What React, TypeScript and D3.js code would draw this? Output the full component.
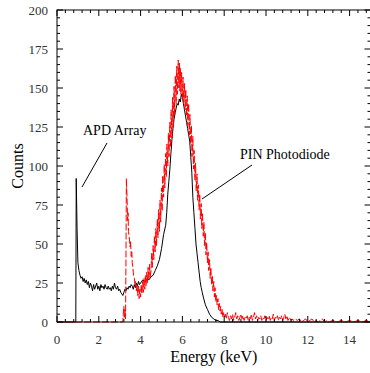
import { useEffect, useRef } from "react"
import * as d3 from "d3"

// APD Array spectrum (black)
const apdEnergy = [
  0, 0.9, 0.92, 0.96, 1.0, 1.05, 1.1, 1.15, 1.2, 1.25, 1.3, 1.35, 1.4, 1.45, 1.5, 1.55, 1.6, 1.65, 1.7, 1.75,
  1.8, 1.85, 1.9, 1.95, 2.0, 2.05, 2.1, 2.15, 2.2, 2.25, 2.3, 2.35, 2.4, 2.45, 2.5, 2.55, 2.6, 2.65, 2.7, 2.75,
  2.8, 2.85, 2.9, 2.95, 3.0, 3.05, 3.1, 3.15, 3.2, 3.25, 3.3, 3.35, 3.4, 3.45, 3.5, 3.55, 3.6, 3.65, 3.7, 3.75,
  3.8, 3.85, 3.9, 3.95, 4.0, 4.1, 4.2, 4.3, 4.4, 4.5, 4.6, 4.7, 4.8, 4.9, 5.0, 5.1, 5.2, 5.25, 5.3, 5.35, 5.4,
  5.45, 5.5, 5.55, 5.6, 5.65, 5.7, 5.75, 5.8, 5.85, 5.9, 5.95, 6.0, 6.05, 6.1, 6.15, 6.2, 6.25, 6.3, 6.35, 6.4,
  6.45, 6.5, 6.55, 6.6, 6.65, 6.7, 6.75, 6.8, 6.85, 6.9, 6.95, 7.0, 7.1, 7.2, 7.3, 7.4, 7.5, 7.6, 7.7, 7.8, 15,
]
const apdCounts = [
  0, 0, 92, 60, 38, 33, 30, 28, 29, 26, 28, 25, 27, 24, 26, 22, 25, 23, 20, 24,
  21, 23, 25, 21, 23, 20, 24, 22, 23, 21, 24, 22, 21, 23, 21, 22, 20, 23, 21, 25,
  22, 21, 23, 20, 21, 19, 18, 17, 19, 21, 20, 22, 21, 23, 22, 24, 23, 21, 24, 22,
  25, 23, 26, 24, 25, 27, 26, 28, 27, 29, 30, 33, 36, 40, 47, 56, 62, 70, 82, 90, 98,
  108, 117, 124, 130, 134, 137, 140, 139, 143, 141, 146, 144, 140, 136, 132, 128, 124, 120, 116, 106,
  96, 80, 70, 60, 50, 44, 38, 32, 26, 22, 19, 16, 11, 8, 5, 3, 2, 1, 1, 0, 0,
]

// PIN Photodiode spectrum (red)
const pinEnergy = [
  0, 3.15, 3.17, 3.2, 3.22, 3.25, 3.28, 3.3, 3.32, 3.35, 3.38, 3.4, 3.42, 3.45, 3.5, 3.52, 3.55, 3.58, 3.6, 3.63,
  3.66, 3.7, 3.73, 3.76, 3.8, 3.83, 3.86, 3.9, 3.93, 3.96, 4.0, 4.03, 4.06, 4.1, 4.13, 4.16, 4.2, 4.23, 4.26, 4.3,
  4.33, 4.36, 4.4, 4.43, 4.46, 4.5, 4.53, 4.56, 4.6, 4.63, 4.66, 4.7, 4.73, 4.76, 4.8, 4.83, 4.86, 4.9, 4.93, 4.96,
  5.0, 5.03, 5.06, 5.1, 5.13, 5.16, 5.2, 5.23, 5.26, 5.3, 5.33, 5.36, 5.4, 5.43, 5.46, 5.5, 5.53, 5.56, 5.6, 5.63,
  5.66, 5.7, 5.73, 5.76, 5.8, 5.83, 5.86, 5.88, 5.9, 5.93, 5.96, 6.0, 6.03, 6.06, 6.1, 6.13, 6.16, 6.2, 6.23, 6.26,
  6.3, 6.33, 6.36, 6.4, 6.43, 6.46, 6.5, 6.53, 6.56, 6.6, 6.63, 6.66, 6.7, 6.73, 6.76, 6.8, 6.83, 6.86, 6.9, 6.93,
  6.96, 7.0, 7.03, 7.06, 7.1, 7.13, 7.16, 7.2, 7.23, 7.26, 7.3, 7.33, 7.36, 7.4, 7.43, 7.46, 7.5, 7.53, 7.56, 7.6,
  7.63, 7.66, 7.7, 7.73, 7.76, 7.8, 7.83, 7.86, 7.9, 7.93, 7.96, 8.0, 8.05, 8.1, 8.15, 8.2, 8.25, 8.3, 8.35, 8.4,
  8.45, 8.5, 8.55, 8.6, 8.65, 8.7, 8.75, 8.8, 8.85, 8.9, 8.95, 9.0, 9.05, 9.1, 9.15, 9.2, 9.25, 9.3, 9.35, 9.4,
  9.45, 9.5, 9.55, 9.6, 9.65, 9.7, 9.75, 9.8, 9.85, 9.9, 9.95, 10.0, 10.05, 10.1, 10.15, 10.2, 10.25, 10.3, 10.35, 10.4,
  10.45, 10.5, 10.55, 10.6, 10.65, 10.7, 10.75, 10.8, 10.85, 10.9, 10.95, 11.0, 11.05, 11.1, 11.15, 11.2, 11.25, 11.3, 11.4, 11.5,
  11.6, 11.7, 11.8, 11.9, 12.0, 12.1, 12.2, 12.3, 12.4, 12.5, 12.6, 12.7, 12.8, 12.9, 13.0, 13.2, 13.4, 13.6, 13.8, 14.0,
  14.2, 14.4, 14.6, 14.8, 15,
]
const pinCounts = [
  0, 0, 5, 10, 3, 8, 2, 40, 92, 80, 65, 70, 58, 55, 48, 52, 42, 45, 38, 35,
  30, 28, 24, 26, 20, 24, 17, 23, 15, 21, 16, 24, 18, 26, 19, 28, 21, 30, 23, 32,
  25, 35, 27, 37, 29, 33, 44, 35, 49, 40, 55, 45, 60, 49, 66, 54, 72, 58, 78, 64,
  86, 71, 94, 80, 101, 86, 108, 93, 114, 100, 121, 106, 128, 112, 136, 118, 144, 125, 151, 133,
  158, 140, 164, 146, 168, 150, 166, 148, 163, 146, 160, 143, 157, 140, 153, 136, 149, 132, 145, 126,
  140, 120, 133, 114, 126, 106, 119, 98, 110, 91, 102, 84, 95, 78, 88, 72, 82, 66, 76, 60,
  70, 55, 64, 49, 57, 43, 51, 38, 45, 33, 40, 28, 35, 24, 30, 20, 26, 16, 22, 13,
  17, 11, 15, 8, 12, 7, 10, 5, 8, 3, 6, 3, 5, 2, 6, 3, 1, 4, 2, 5,
  1, 3, 6, 2, 4, 1, 3, 5, 2, 4, 1, 3, 2, 4, 1, 3, 2, 5, 1, 3,
  6, 2, 4, 1, 3, 2, 4, 1, 3, 2, 4, 1, 3, 2, 4, 1, 3, 2, 5, 1,
  3, 2, 4, 1, 3, 2, 4, 1, 3, 5, 2, 4, 1, 2, 3, 1, 2, 1, 2, 1,
  2, 0, 1, 2, 0, 1, 2, 0, 1, 0, 1, 2, 0, 1, 0, 1, 0, 1, 0, 1,
  0, 1, 0, 1, 0,
]

const xTicks = [0, 2, 4, 6, 8, 10, 12, 14]
const yTicks = [0, 25, 50, 75, 100, 125, 150, 175, 200]

const FONT = "Liberation Serif, Times New Roman, serif"

export default function App() {
  const svgRef = useRef<SVGSVGElement>(null)

  useEffect(() => {
    document.body.style.margin = "0"
    if (!svgRef.current) return
    const width = 370
    const height = 373
    const left = 57
    const top = 10
    const right = 370.5
    const bottom = 322

    const svg = d3.select(svgRef.current).attr("width", width).attr("height", height)
    svg.selectAll("*").remove()

    const x = d3.scaleLinear().domain([0, 15]).range([left, right])
    const y = d3.scaleLinear().domain([0, 200]).range([bottom, top])

    const line = d3
      .line<[number, number]>()
      .x((d) => x(d[0]))
      .y((d) => y(d[1]))

    const apd: [number, number][] = apdEnergy.map((e, i) => [e, apdCounts[i]])
    const pin: [number, number][] = pinEnergy.map((e, i) => [e, pinCounts[i]])

    svg
      .append("path")
      .attr("d", line(apd))
      .attr("fill", "none")
      .attr("stroke", "#000")
      .attr("stroke-width", 1)

    svg
      .append("path")
      .attr("d", line(pin))
      .attr("fill", "none")
      .attr("stroke", "#ff0000")
      .attr("stroke-width", 1)
      .attr("stroke-dasharray", "7,2")

    // frame
    svg
      .append("rect")
      .attr("x", left)
      .attr("y", top)
      .attr("width", right - left)
      .attr("height", bottom - top)
      .attr("fill", "none")
      .attr("stroke", "#000")
      .attr("stroke-width", 1)

    const ticks = svg.append("g").attr("stroke", "#000").attr("stroke-width", 1)
    const xMinor = d3.range(0, 15.001, 0.4)
    xMinor.forEach((v) => {
      const major = Math.abs(v / 2 - Math.round(v / 2)) < 1e-6
      const len = major ? 6 : 3
      ticks.append("line").attr("x1", x(v)).attr("x2", x(v)).attr("y1", bottom).attr("y2", bottom - len)
      ticks.append("line").attr("x1", x(v)).attr("x2", x(v)).attr("y1", top).attr("y2", top + len)
    })
    const yMinor = d3.range(0, 200.001, 5)
    yMinor.forEach((v) => {
      const major = v % 25 === 0
      const len = major ? 6 : 3
      ticks.append("line").attr("x1", left).attr("x2", left + len).attr("y1", y(v)).attr("y2", y(v))
      ticks.append("line").attr("x1", right).attr("x2", right - len).attr("y1", y(v)).attr("y2", y(v))
    })

    svg
      .append("g")
      .selectAll("text")
      .data(xTicks)
      .enter()
      .append("text")
      .attr("x", (d) => x(d))
      .attr("y", bottom + 22)
      .attr("text-anchor", "middle")
      .attr("font-family", FONT)
      .attr("font-size", "13px")
      .attr("fill", "#333")
      .text((d) => d)

    svg
      .append("g")
      .selectAll("text")
      .data(yTicks)
      .enter()
      .append("text")
      .attr("x", left - 9)
      .attr("y", (d) => y(d))
      .attr("dy", "0.35em")
      .attr("text-anchor", "end")
      .attr("font-family", FONT)
      .attr("font-size", "13px")
      .attr("fill", "#333")
      .text((d) => d)

    svg
      .append("text")
      .attr("x", (left + right) / 2)
      .attr("y", 362)
      .attr("text-anchor", "middle")
      .attr("font-family", FONT)
      .attr("font-size", "16px")
      .text("Energy (keV)")

    svg
      .append("text")
      .attr("transform", `translate(23,${(top + bottom) / 2}) rotate(-90)`)
      .attr("text-anchor", "middle")
      .attr("font-family", FONT)
      .attr("font-size", "16px")
      .text("Counts")

    // annotations
    svg
      .append("text")
      .attr("x", 83)
      .attr("y", 135)
      .attr("font-family", FONT)
      .attr("font-size", "14px")
      .text("APD Array")
    svg.append("line").attr("x1", 107).attr("y1", 143).attr("x2", 82).attr("y2", 187).attr("stroke", "#000")

    svg
      .append("text")
      .attr("x", 240)
      .attr("y", 159)
      .attr("font-family", FONT)
      .attr("font-size", "14px")
      .text("PIN Photodiode")
    svg.append("line").attr("x1", 252).attr("y1", 165).attr("x2", 202).attr("y2", 199).attr("stroke", "#000")
  }, [])

  return <svg ref={svgRef} style={{ display: "block" }} />
}
